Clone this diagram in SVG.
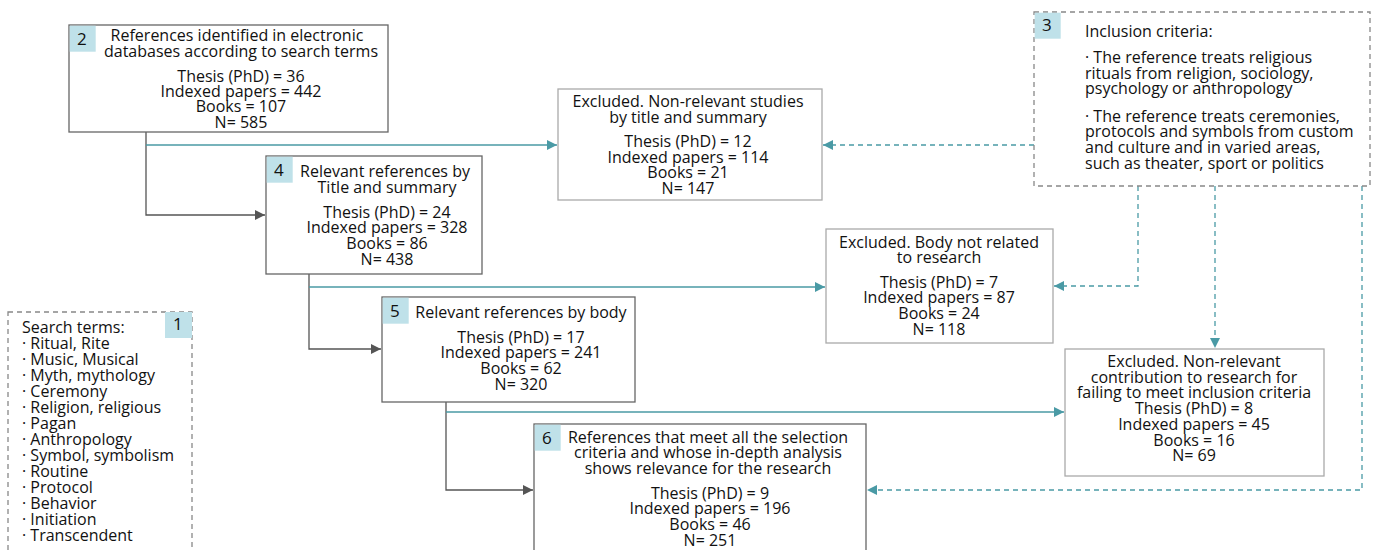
<svg xmlns="http://www.w3.org/2000/svg" width="1374" height="550" viewBox="0 0 1374 550">
<defs>
<style>
text{font-family:"Open Sans","Liberation Sans",Arial,sans-serif;font-size:16px;fill:#111;}
.c{text-anchor:middle;}
.main{fill:#fff;stroke:#666;stroke-width:1.3;}
.exc{fill:#fff;stroke:#aaa;stroke-width:1.3;}
.dash{fill:#fff;stroke:#888;stroke-width:1.3;stroke-dasharray:5,4;}
.badge{fill:#bfe1e9;}
.bt{font-size:17px;}
.flow{fill:none;stroke:#555;stroke-width:1.3;}
.ex{fill:none;stroke:#4a9aa5;stroke-width:1.3;}
.exd{fill:none;stroke:#4a9aa5;stroke-width:1.3;stroke-dasharray:5,4;}
</style>
<marker id="ag" viewBox="0 0 10 10" refX="10" refY="5" markerWidth="10" markerHeight="10" markerUnits="userSpaceOnUse" orient="auto"><path d="M0,0 L10,5 L0,10 Z" fill="#555"/></marker>
<marker id="at" viewBox="0 0 10 10" refX="10" refY="5" markerWidth="10" markerHeight="10" markerUnits="userSpaceOnUse" orient="auto"><path d="M0,0 L10,5 L0,10 Z" fill="#4a9aa5"/></marker>
</defs>

<g id="connectors">
<path class="flow" d="M146,132 V215 H265" marker-end="url(#ag)"/>
<path class="ex" d="M146,145 H557" marker-end="url(#at)"/>
<path class="flow" d="M309,274 V349 H381" marker-end="url(#ag)"/>
<path class="ex" d="M309,287 H825" marker-end="url(#at)"/>
<path class="flow" d="M446,402 V490 H533" marker-end="url(#ag)"/>
<path class="ex" d="M446,412 H1064" marker-end="url(#at)"/>
<path class="exd" d="M1034,145 H823" marker-end="url(#at)"/>
<path class="exd" d="M1138,186 V286 H1054" marker-end="url(#at)"/>
<path class="exd" d="M1215,186 V348" marker-end="url(#at)"/>
<path class="exd" d="M1362,186 V490 H867" marker-end="url(#at)"/>
</g>

<g id="node1">
<rect class="dash" x="8" y="312" width="184" height="250"/>
<rect class="badge" x="165" y="312" width="27" height="26"/>
<text class="bt" x="173" y="330">1</text>
<text x="22" y="333">Search terms:</text>
<text x="22" y="349">· Ritual, Rite</text>
<text x="22" y="365">· Music, Musical</text>
<text x="22" y="381">· Myth, mythology</text>
<text x="22" y="397">· Ceremony</text>
<text x="22" y="413">· Religion, religious</text>
<text x="22" y="429">· Pagan</text>
<text x="22" y="445">· Anthropology</text>
<text x="22" y="461">· Symbol, symbolism</text>
<text x="22" y="477">· Routine</text>
<text x="22" y="493">· Protocol</text>
<text x="22" y="509">· Behavior</text>
<text x="22" y="525">· Initiation</text>
<text x="22" y="541">· Transcendent</text>
</g>

<g id="node2">
<rect class="main" x="69" y="25" width="319" height="107"/>
<rect class="badge" x="69.7" y="25.7" width="26" height="26"/>
<text class="bt" x="77" y="45">2</text>
<text class="c" x="237" y="41">References identified in electronic</text>
<text class="c" x="241" y="57">databases according to search terms</text>
<text class="c" x="241" y="82">Thesis (PhD) = 36</text>
<text class="c" x="241" y="97">Indexed papers = 442</text>
<text class="c" x="241" y="112">Books = 107</text>
<text class="c" x="241" y="128">N= 585</text>
</g>

<g id="node3">
<rect class="dash" x="1034" y="12" width="336" height="174"/>
<rect class="badge" x="1034.7" y="12.7" width="26" height="26"/>
<text class="bt" x="1042" y="31">3</text>
<text x="1085" y="37">Inclusion criteria:</text>
<text x="1085" y="63">· The reference treats religious</text>
<text x="1085" y="79">rituals from religion, sociology,</text>
<text x="1085" y="94">psychology or anthropology</text>
<text x="1085" y="122">· The reference treats ceremonies,</text>
<text x="1085" y="137">protocols and symbols from custom</text>
<text x="1085" y="153">and culture and in varied areas,</text>
<text x="1085" y="169">such as theater, sport or politics</text>
</g>

<g id="node4">
<rect class="main" x="266" y="156" width="216" height="118"/>
<rect class="badge" x="266.7" y="156.7" width="26" height="26"/>
<text class="bt" x="274" y="176">4</text>
<text class="c" x="385" y="177">Relevant references by</text>
<text class="c" x="387" y="193">Title and summary</text>
<text class="c" x="387" y="218">Thesis (PhD) = 24</text>
<text class="c" x="387" y="233">Indexed papers = 328</text>
<text class="c" x="387" y="249">Books = 86</text>
<text class="c" x="387" y="265">N= 438</text>
</g>

<g id="node5">
<rect class="main" x="382" y="297" width="253" height="105"/>
<rect class="badge" x="382.7" y="297.7" width="26" height="26"/>
<text class="bt" x="390" y="317">5</text>
<text class="c" x="521" y="318">Relevant references by body</text>
<text class="c" x="521" y="343">Thesis (PhD) = 17</text>
<text class="c" x="521" y="358">Indexed papers = 241</text>
<text class="c" x="521" y="374">Books = 62</text>
<text class="c" x="521" y="390">N= 320</text>
</g>

<g id="node6">
<rect class="main" x="534" y="424" width="332" height="140"/>
<rect class="badge" x="534.7" y="424.7" width="26" height="26"/>
<text class="bt" x="542" y="444">6</text>
<text class="c" x="708" y="443">References that meet all the selection</text>
<text class="c" x="708" y="458">criteria and whose in-depth analysis</text>
<text class="c" x="708" y="474">shows relevance for the research</text>
<text class="c" x="710" y="499">Thesis (PhD) = 9</text>
<text class="c" x="710" y="514">Indexed papers = 196</text>
<text class="c" x="710" y="530">Books = 46</text>
<text class="c" x="710" y="546">N= 251</text>
</g>

<g id="excluded1">
<rect class="exc" x="558" y="89" width="264" height="111"/>
<text class="c" x="688" y="107">Excluded. Non-relevant studies</text>
<text class="c" x="688" y="123">by title and summary</text>
<text class="c" x="688" y="147">Thesis (PhD) = 12</text>
<text class="c" x="688" y="163">Indexed papers = 114</text>
<text class="c" x="688" y="178">Books = 21</text>
<text class="c" x="688" y="194">N= 147</text>
</g>

<g id="excluded2">
<rect class="exc" x="826" y="229" width="227" height="114"/>
<text class="c" x="939" y="248">Excluded. Body not related</text>
<text class="c" x="939" y="263">to research</text>
<text class="c" x="939" y="288">Thesis (PhD) = 7</text>
<text class="c" x="939" y="303">Indexed papers = 87</text>
<text class="c" x="939" y="319">Books = 24</text>
<text class="c" x="939" y="335">N= 118</text>
</g>

<g id="excluded3">
<rect class="exc" x="1065" y="349" width="259" height="127"/>
<text class="c" x="1194" y="367">Excluded. Non-relevant</text>
<text class="c" x="1194" y="383">contribution to research for</text>
<text class="c" x="1194" y="398">failing to meet inclusion criteria</text>
<text class="c" x="1194" y="414">Thesis (PhD) = 8</text>
<text class="c" x="1194" y="430">Indexed papers = 45</text>
<text class="c" x="1194" y="446">Books = 16</text>
<text class="c" x="1194" y="461">N= 69</text>
</g>
</svg>
